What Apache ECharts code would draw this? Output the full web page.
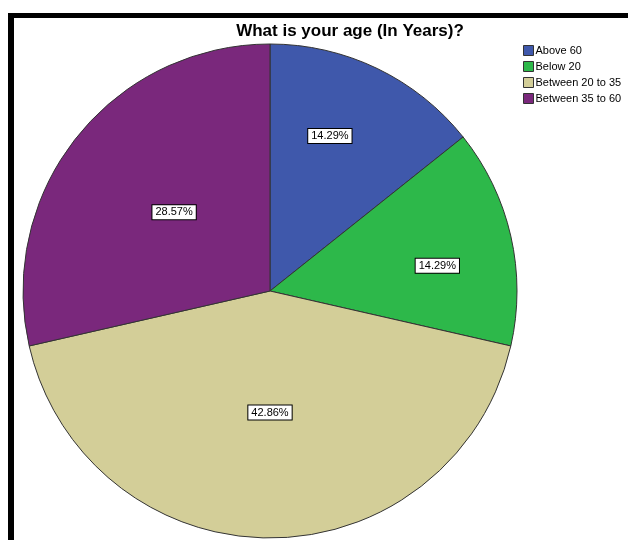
<!DOCTYPE html>
<html>
<head>
<meta charset="utf-8">
<script src="https://cdn.jsdelivr.net/npm/echarts@6/dist/echarts.min.js"></script>
<style>
  html, body { margin: 0; padding: 0; background: #fff; }
  #main { width: 628px; height: 540px; }
</style>
</head>
<body>
<div id="main"></div>
<script>
const categories = ['Above 60', 'Below 20', 'Between 20 to 35', 'Between 35 to 60'];
const counts = [1, 1, 3, 2];
const colors = ['#3F58AB', '#2DB84A', '#D3CE98', '#7A287C'];
// SPSS nudges some labels away from the slice midpoint
const labelNudge = [[5, -41], [44, 3], [0, -5], [3, 0]];

const chartDom = document.getElementById('main');
const myChart = echarts.init(chartDom, null, { renderer: 'canvas' });

const option = {
  animation: false,
  title: {
    text: 'What is your age (In Years)?',
    left: 345,
    top: 18,
    textAlign: 'center',
    textStyle: {
      fontFamily: 'Liberation Sans',
      fontSize: 17,
      fontWeight: 'bold',
      color: '#000'
    }
  },
  legend: {
    orient: 'vertical',
    left: 518,
    top: 40,
    icon: 'rect',
    itemWidth: 10,
    itemHeight: 10,
    itemGap: 5,
    selectedMode: false,
    itemStyle: { borderColor: '#333', borderWidth: 1 },
    textStyle: {
      fontFamily: 'Liberation Sans',
      fontSize: 11,
      color: '#000',
      padding: [0, 0, 0, -3]
    },
    data: categories
  },
  graphic: [
    { type: 'rect', shape: { x: 8, y: 13, width: 620, height: 5 }, style: { fill: '#000' } },
    { type: 'rect', shape: { x: 8, y: 13, width: 6, height: 527 }, style: { fill: '#000' } }
  ],
  series: [
    {
      type: 'pie',
      center: [270, 291],
      radius: 247,
      startAngle: 90,
      clockwise: true,
      avoidLabelOverlap: false,
      emphasis: { disabled: true },
      itemStyle: { borderColor: '#333', borderWidth: 1 },
      label: {
        show: true,
        position: 'inside',
        formatter: p => (p.value / counts.reduce((a, b) => a + b, 0) * 100).toFixed(2) + '%',
        fontFamily: 'Liberation Sans',
        fontSize: 11,
        color: '#000',
        backgroundColor: '#fff',
        borderColor: '#000',
        borderWidth: 1,
        padding: [2, 3, 1, 3]
      },
      labelLine: { show: false },
      labelLayout: params => ({ dx: labelNudge[params.dataIndex][0], dy: labelNudge[params.dataIndex][1] }),
      data: categories.map((name, i) => ({
        name: name,
        value: counts[i],
        itemStyle: { color: colors[i] }
      }))
    }
  ]
};

myChart.setOption(option);
</script>
</body>
</html>
